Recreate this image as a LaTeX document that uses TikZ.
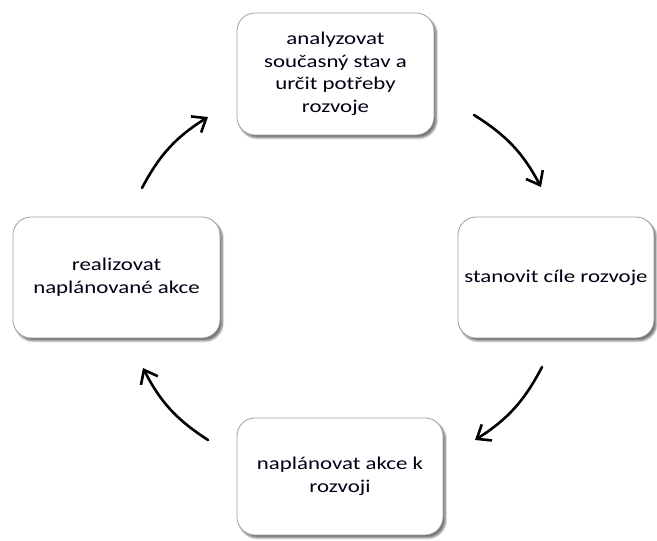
\documentclass[tikz,border=0pt]{standalone}
\usepackage{fontspec}
\setmainfont{Carlito}[FakeStretch=1.27]
\usetikzlibrary{arrows.meta,shadows.blur}

\tikzset{
  stagebox/.style={
    draw=black!38, line width=0.8pt, fill=white,
    rounded corners=18pt, align=center,
    font=\fontsize{18}{22.5}\selectfont, text=black!92!blue,
    blur shadow={shadow xshift=2.5pt, shadow yshift=-3pt,
                 shadow blur steps=6, shadow opacity=55}
  },
  cyclearrow/.style={
    line width=2.6pt, black, line cap=round,
    -{Straight Barb[length=12pt,width=19pt,line width=2.6pt]}
  }
}

\begin{document}
\begin{tikzpicture}[x=1pt,y=1pt]
  \useasboundingbox (0,0) rectangle (657,541);

  % the four stages of the cycle
  \node[stagebox, minimum width=197pt, minimum height=122pt] (analyze) at (335.5,467)
    {\raisebox{-4pt}{\begin{tabular}{@{}c@{}}analyzovat\\současný stav a\\určit potřeby\\rozvoje\end{tabular}}};
  \node[stagebox, minimum width=196pt, minimum height=121pt] (goals) at (556,263.5)
    {\raisebox{-7pt}{stanovit cíle rozvoje}};
  \node[stagebox, minimum width=206pt, minimum height=117pt] (plan) at (340,64.5)
    {\raisebox{-2pt}{\begin{tabular}{@{}c@{}}naplánovat akce k\\rozvoji\end{tabular}}};
  \node[stagebox, minimum width=207pt, minimum height=121pt] (realize) at (116.5,263.5)
    {\raisebox{-3pt}{\begin{tabular}{@{}c@{}}realizovat\\naplánované akce\end{tabular}}};

  % free ends of the curved arrows between the stages
  \coordinate (a1) at (474,426);  \coordinate (b1) at (541,354);
  \coordinate (a2) at (542,174);  \coordinate (b2) at (475,101);
  \coordinate (a3) at (208,101);  \coordinate (b3) at (143,173);
  \coordinate (a4) at (142,353);  \coordinate (b4) at (208,424);

  \draw[cyclearrow] (a1) to[bend left=15] (b1);
  \draw[cyclearrow] (a2) to[bend left=15] (b2);
  \draw[cyclearrow] (a3) to[bend left=15] (b3);
  \draw[cyclearrow] (a4) to[bend left=15] (b4);
\end{tikzpicture}
\end{document}
